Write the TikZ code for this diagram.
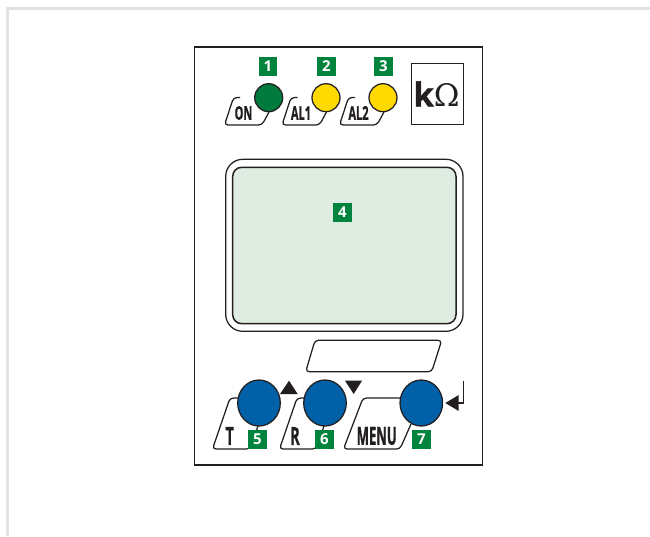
\documentclass[tikz,border=0pt]{standalone}
\usepackage{fontspec}
\usetikzlibrary{shapes.geometric}
\setmainfont{Open Sans}
\newfontfamily\rotulofont[BoldFeatures={FakeBold=1.2}]{Open Sans}
\definecolor{verde}{HTML}{00843D}
\definecolor{verdeled}{HTML}{007A3D}
\definecolor{amarillo}{HTML}{FFD900}
\definecolor{azul}{HTML}{0060A8}
\definecolor{pantalla}{HTML}{DFECE2}
\definecolor{linea}{HTML}{231F20}
\definecolor{marco}{HTML}{E2E2E2}
\begin{document}
\begin{tikzpicture}[
    x=1pt,
    y=-1pt,
    trazo/.style={draw=linea, line width=1.25pt},
    forma/.style={trazo, rounded corners=3.5pt},
    insignia/.style={fill=verde, text=white, minimum size=18.7pt, inner sep=0pt, font=\fontsize{15}{15}\selectfont\bfseries},
    led/.style={circle, trazo, minimum size=28pt, inner sep=0pt},
    boton/.style={ellipse, trazo, fill=azul, minimum width=42.6pt, minimum height=46pt, inner sep=0pt},
    rotulo/.style={inner sep=0pt, text=linea, xscale=0.58, transform shape},
    flecha/.style={fill=linea}
]
\useasboundingbox (0,0) rectangle (650,536);

% Marco exterior de la imagen
\draw[marco, line width=3pt] (7.5,536) -- (7.5,8.5) -- (650,8.5);

% Panel y unidad
\draw[trazo] (194.5,47) rectangle (482.5,465);
\node[trazo, minimum width=51.6pt, minimum height=61.7pt, inner sep=0pt] (unidad) at (437.5,94) {};
\node[anchor=base, inner sep=0pt, text=linea] (ohm) at (436.5,106.5)
    {\rotulofont\fontsize{33}{33}\selectfont\textbf{k}\fontsize{31}{31}\selectfont\fontspec{DejaVu Serif}\char"03A9};

% Pantalla
\draw[trazo, rounded corners=17pt] (225.7,159.3) rectangle (463,331.3);
\draw[trazo, line width=1.5pt, fill=pantalla, rounded corners=9pt] (232.7,167.3) rectangle (456,323.7);
\draw[forma] (315,340.3) -- (441.7,340.3) -- (431.7,371.7) -- (305.7,371.7) -- cycle;

% Pestanas de los led: desplazamiento / texto
\foreach \xx/\txt [count=\i] in {0/ON, 57.5/AL1, 115/AL2}
{
    \draw[forma] (\xx+240,97.5) -- (\xx+233.5,97.5) -- (\xx+224.5,125) -- (\xx+262,125) -- (\xx+269,112);
    \node[rotulo, font=\rotulofont\fontsize{19}{19}\selectfont\bfseries] (etq\i) at (\xx+243.5,113) {\txt};
}

% Led: centro / color
\foreach \cx/\col [count=\i] in {268.7/verdeled, 326/amarillo, 383/amarillo}
    \node[led, fill=\col] (led\i) at (\cx,97.7) {};

% Pestanas de los botones
\draw[forma] (240,398) -- (230,398) -- (212.5,449) -- (250,449) -- (258,426);
\draw[forma] (305,398) -- (297,398) -- (279.5,449) -- (316,449) -- (324,426);
\draw[forma] (402,398) -- (363,398) -- (343.5,449) -- (400,449) -- (411,424);
\node[rotulo, font=\rotulofont\fontsize{25}{25}\selectfont\bfseries] (etqT) at (229.7,436) {T};
\node[rotulo, font=\rotulofont\fontsize{25}{25}\selectfont\bfseries] (etqR) at (295,436) {R};
\node[rotulo, xscale=0.9, font=\rotulofont\fontsize{25}{25}\selectfont\bfseries] (etqM) at (376.7,436) {MENU};

% Botones
\foreach \cx [count=\i] in {259,325,421.3}
    \node[boton] (bot\i) at (\cx,403) {};

% Flechas
\fill[flecha] (280,394) -- (297.7,394) -- (289,380.7) -- cycle;
\fill[flecha] (345,380.7) -- (362,380.7) -- (353.7,394) -- cycle;
\fill[flecha] (445.3,403) -- (458.7,395) -- (458.7,411) -- cycle;
\draw[linea, line width=1.25pt] (463.3,380.7) -- (463.3,403) -- (458,403);

% Numeros verdes
\foreach \cx/\cy/\num in {268/66.5/1, 326.5/66.5/2, 383.5/66.5/3, 342.3/212.3/4, 257.5/439.3/5, 324.5/439.3/6, 421.3/439.3/7}
    \node[insignia] (num\num) at (\cx,\cy) {\num};

\end{tikzpicture}
\end{document}
